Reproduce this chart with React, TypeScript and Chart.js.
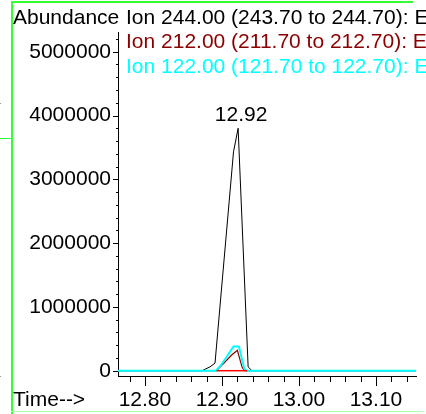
import React, { useEffect, useRef } from 'react';
import { Chart, registerables } from 'chart.js';

Chart.register(...registerables);

// ---- data ----
const ion244Time = [12.765, 12.874, 12.8845, 12.891, 12.915, 12.921, 12.934, 12.939, 13.152];
const ion244Abund = [0, 0, 60000, 120000, 3430000, 3800000, 60000, 0, 0];

const ion212Time = [12.765, 12.893, 12.913, 12.92, 12.926, 12.929, 13.152];
const ion212Abund = [0, 0, 250000, 320000, 60000, 0, 0];

const ion122Time = [12.765, 12.892, 12.899, 12.915, 12.922, 12.929, 12.932, 13.152];
const ion122Abund = [0, 0, 90000, 380000, 380000, 30000, 0, 0];

const integrationTime = [12.893, 12.933];
const integrationAbund = [0, 0];

const ionLabels = [
  'Ion 244.00 (243.70 to 244.70): E',
  'Ion 212.00 (211.70 to 212.70): E',
  'Ion 122.00 (121.70 to 122.70): E',
];
const yAxisTitle = 'Abundance';
const xAxisTitle = 'Time-->';
const yTickValues = [0, 1000000, 2000000, 3000000, 4000000, 5000000];
const xTickValues = [12.8, 12.9, 13.0, 13.1];
const peakTime = 12.921;
const peakAbund = 3800000;
const peakLabel = '12.92';

// ---- styles ----
const FONT = '"Liberation Sans", Arial, Helvetica, sans-serif';
const FONT_SIZE = 21;
const COLOR_244 = '#000000';
const COLOR_212 = '#8b0000';
const COLOR_122 = '#00ffff';
const COLOR_INT = '#ff0000';

const zip = (t: number[], v: number[]) => t.map((x, i) => ({ x, y: v[i] }));

const decorPlugin = {
  id: 'decor',
  beforeDraw(chart: any) {
    const ctx = chart.ctx;
    ctx.save();
    ctx.fillStyle = '#ffffff';
    ctx.fillRect(0, 0, chart.width, chart.height);
    // window frame
    ctx.strokeStyle = '#33ff33';
    ctx.lineWidth = 2;
    ctx.beginPath();
    ctx.moveTo(12, 414);
    ctx.lineTo(12, 2);
    ctx.lineTo(413, 2);
    ctx.stroke();
    ctx.lineWidth = 1;
    ctx.beginPath();
    ctx.moveTo(0, 138.5);
    ctx.lineTo(11, 138.5);
    ctx.stroke();
    ctx.strokeStyle = '#aaffaa';
    ctx.beginPath();
    ctx.moveTo(11, 411.5);
    ctx.lineTo(424, 411.5);
    ctx.stroke();
    ctx.fillStyle = '#999999';
    ctx.fillRect(0, 103, 1, 1);
    ctx.fillRect(0, 376, 1, 1);
    ctx.restore();
  },
  afterDraw(chart: any) {
    const ctx = chart.ctx;
    const xs = chart.scales.x;
    const ys = chart.scales.y;
    const { left, bottom } = chart.chartArea;
    ctx.save();
    ctx.strokeStyle = '#000';
    ctx.lineWidth = 1;
    ctx.beginPath();
    // x ticks (minor every 0.02, major every 0.1)
    for (let i = 0; ; i++) {
      const v = 12.78 + i * 0.02;
      if (v > xs.max) break;
      const px = Math.round(xs.getPixelForValue(v)) + 0.5;
      const major = Math.abs(v * 10 - Math.round(v * 10)) < 1e-6;
      ctx.moveTo(px, bottom);
      ctx.lineTo(px, bottom + (major ? 10 : 6));
    }
    // y ticks (minor every 200000, major every 1000000)
    for (let i = 0; ; i++) {
      const v = i * 200000;
      if (v > ys.max) break;
      const py = Math.round(ys.getPixelForValue(v)) + 0.5;
      const major = i % 5 === 0;
      ctx.moveTo(left, py);
      ctx.lineTo(left - (major ? 5 : 2), py);
    }
    ctx.stroke();

    ctx.font = `${FONT_SIZE}px ${FONT}`;
    ctx.textBaseline = 'middle';
    ctx.textAlign = 'left';
    ctx.fillStyle = '#000';
    ctx.fillText(yAxisTitle, 13, 18);
    ctx.fillText(xAxisTitle, 13, 400);
    const colors = [COLOR_244, COLOR_212, COLOR_122];
    ionLabels.forEach((t, i) => {
      ctx.fillStyle = colors[i];
      ctx.fillText(t, 126, 18 + i * 24.5);
    });
    ctx.fillStyle = '#000';
    ctx.textAlign = 'center';
    ctx.fillText(peakLabel, xs.getPixelForValue(peakTime) + 3, ys.getPixelForValue(peakAbund) - 13);
    ctx.restore();
  },
};

export default function App() {
  const ref = useRef<HTMLCanvasElement>(null);
  useEffect(() => {
    document.body.style.margin = '0';
    const canvas = ref.current!;
    const chart = new Chart(canvas, {
      type: 'line',
      data: {
        datasets: [
          { label: 'integration', data: zip(integrationTime, integrationAbund), borderColor: COLOR_INT, borderWidth: 1.5, pointRadius: 0 },
          { label: 'Ion 122.00', data: zip(ion122Time, ion122Abund), borderColor: COLOR_122, borderWidth: 2, pointRadius: 0 },
          { label: 'Ion 212.00', data: zip(ion212Time, ion212Abund), borderColor: COLOR_212, borderWidth: 1.2, pointRadius: 0 },
          { label: 'Ion 244.00', data: zip(ion244Time, ion244Abund), borderColor: COLOR_244, borderWidth: 1, pointRadius: 0 },
        ],
      },
      options: {
        animation: false,
        responsive: false,
        events: [],
        layout: { padding: { top: 32, right: 10, left: 0, bottom: 0 } },
        elements: { line: { tension: 0 }, point: { radius: 0 } },
        plugins: { legend: { display: false }, tooltip: { enabled: false } },
        scales: {
          x: {
            type: 'linear',
            min: 12.765,
            max: 13.152,
            grid: { display: false, drawTicks: false },
            border: { display: true, color: '#000', width: 1 },
            ticks: {
              padding: 12,
              color: '#000',
              font: { family: FONT, size: FONT_SIZE },
              maxRotation: 0,
              callback: (v: any) => Number(v).toFixed(2),
            },
            afterBuildTicks: (s: any) => { s.ticks = xTickValues.map((value) => ({ value })); },
            afterFit: (s: any) => { s.height = 38; s.paddingLeft = 0; s.paddingRight = 0; },
          },
          y: {
            type: 'linear',
            min: -83000,
            max: 5309000,
            grid: { display: false, drawTicks: false },
            border: { display: true, color: '#000', width: 1 },
            ticks: {
              padding: 7,
              color: '#000',
              font: { family: FONT, size: FONT_SIZE },
              callback: (v: any) => String(v),
            },
            afterBuildTicks: (s: any) => { s.ticks = yTickValues.map((value) => ({ value })); },
            afterFit: (s: any) => { s.width = 118; s.paddingTop = 0; s.paddingBottom = 0; },
          },
        },
      },
      plugins: [decorPlugin],
    } as any);
    return () => chart.destroy();
  }, []);
  return <canvas ref={ref} width={426} height={414} style={{ display: 'block' }} />;
}
